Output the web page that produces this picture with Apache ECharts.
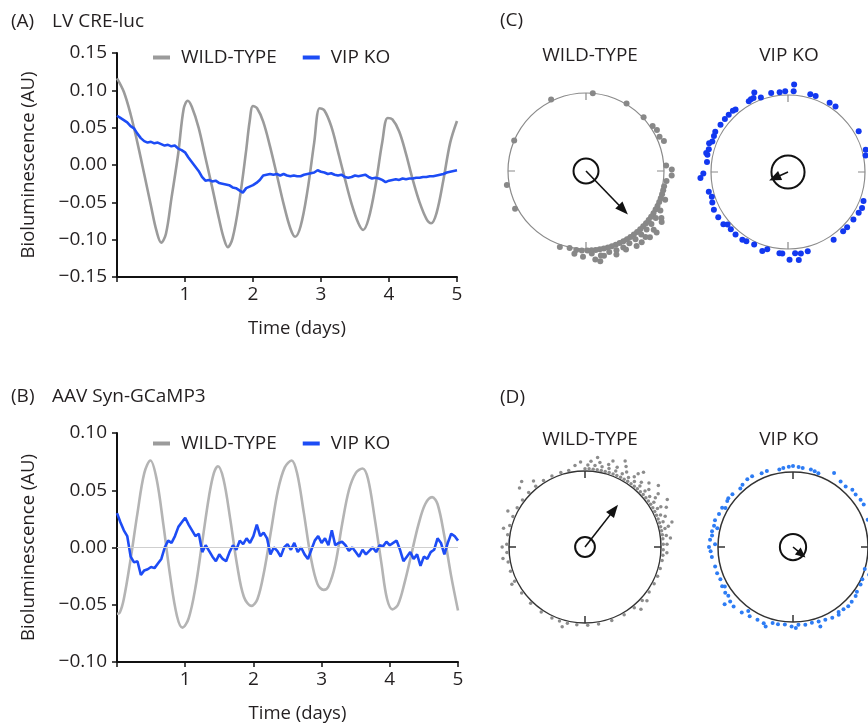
<!DOCTYPE html>
<html><head><meta charset="utf-8">
<script src="https://cdn.jsdelivr.net/npm/echarts@6/dist/echarts.min.js"></script>
<style>html,body{margin:0;padding:0;background:#fff}#c{width:868px;height:728px}</style>
</head><body><div id="c"></div>
<script>
// ---------------- DATA ----------------
const seriesNames = ['WILD-TYPE', 'VIP KO'];
const xTickValues = [0, 1, 2, 3, 4, 5];

// Panel A wild-type (time in days, value AU)
const wtA_t = [0,0.1,0.2,0.3,0.4,0.5,0.58,0.65,0.72,0.8,0.9,0.98,1.04,1.1,1.2,1.3,1.4,1.5,1.57,1.63,1.7,1.8,1.9,1.95,2.0,2.06,2.15,2.25,2.35,2.45,2.55,2.62,2.7,2.8,2.9,2.98,3.05,3.15,3.25,3.35,3.45,3.55,3.62,3.7,3.8,3.9,3.98,4.05,4.15,4.25,4.35,4.45,4.55,4.62,4.7,4.8,4.9,5.0];
const wtA_v = [0.116,0.098,0.068,0.030,-0.012,-0.055,-0.088,-0.104,-0.092,-0.045,0.015,0.075,0.086,0.078,0.050,0.010,-0.030,-0.072,-0.098,-0.110,-0.098,-0.048,0.020,0.058,0.079,0.076,0.058,0.025,-0.013,-0.052,-0.085,-0.096,-0.082,-0.035,0.030,0.076,0.073,0.052,0.018,-0.018,-0.052,-0.078,-0.087,-0.072,-0.028,0.030,0.063,0.061,0.045,0.015,-0.020,-0.050,-0.072,-0.078,-0.064,-0.020,0.030,0.059];

// Panel A VIP KO, sampled every 0.05 day
const koA_step = 0.05;
const koA_v = [0.066,0.063,0.060,0.057,0.052,0.049,0.042,0.036,0.032,0.030,0.031,0.029,0.030,0.028,0.026,0.027,0.025,0.026,0.022,0.020,0.017,0.010,0.004,-0.002,-0.008,-0.016,-0.021,-0.020,-0.022,-0.021,-0.024,-0.025,-0.026,-0.027,-0.030,-0.031,-0.034,-0.037,-0.031,-0.029,-0.027,-0.024,-0.020,-0.014,-0.013,-0.012,-0.013,-0.012,-0.014,-0.012,-0.014,-0.015,-0.014,-0.015,-0.015,-0.013,-0.012,-0.011,-0.010,-0.007,-0.009,-0.010,-0.012,-0.011,-0.013,-0.014,-0.013,-0.016,-0.017,-0.016,-0.014,-0.015,-0.014,-0.013,-0.016,-0.018,-0.017,-0.018,-0.020,-0.023,-0.021,-0.020,-0.019,-0.020,-0.018,-0.019,-0.018,-0.018,-0.017,-0.017,-0.016,-0.016,-0.015,-0.015,-0.014,-0.013,-0.012,-0.010,-0.009,-0.008,-0.007];

// Panel B wild-type
const wtB_t = [0,0.04,0.1,0.2,0.3,0.4,0.49,0.58,0.68,0.78,0.88,0.96,1.05,1.15,1.25,1.35,1.42,1.48,1.56,1.66,1.76,1.86,1.97,2.06,2.16,2.26,2.36,2.46,2.56,2.64,2.74,2.84,2.94,3.03,3.1,3.2,3.3,3.4,3.5,3.6,3.68,3.78,3.88,3.96,4.04,4.12,4.22,4.32,4.42,4.52,4.62,4.7,4.8,4.9,5.0];
const wtB_v = [-0.058,-0.057,-0.045,-0.010,0.030,0.065,0.076,0.060,0.020,-0.025,-0.060,-0.070,-0.062,-0.035,0.005,0.045,0.065,0.071,0.060,0.025,-0.015,-0.043,-0.051,-0.045,-0.020,0.015,0.050,0.070,0.076,0.065,0.030,-0.008,-0.032,-0.037,-0.034,-0.015,0.020,0.050,0.065,0.069,0.060,0.025,-0.015,-0.045,-0.054,-0.050,-0.030,-0.005,0.020,0.038,0.044,0.038,0.010,-0.025,-0.055];

// Panel B VIP KO, sampled every 0.05 day
const koB_step = 0.05;
const koB_v = [0.030,0.022,0.015,0.010,-0.008,-0.013,-0.012,-0.024,-0.020,-0.019,-0.017,-0.018,-0.014,-0.010,0.000,0.006,0.004,0.010,0.018,0.022,0.026,0.020,0.015,0.010,0.012,-0.004,0.002,-0.003,-0.008,-0.012,-0.006,-0.010,-0.012,-0.004,0.002,-0.002,0.006,0.003,0.008,0.004,0.010,0.020,0.010,0.013,0.008,-0.006,0.000,-0.003,-0.008,0.000,0.003,-0.002,0.004,-0.004,0.000,-0.006,-0.010,-0.002,0.006,0.010,0.004,0.008,0.002,0.015,0.002,0.004,0.005,0.002,-0.003,0.000,-0.004,-0.008,-0.002,-0.006,-0.003,0.000,-0.004,0.002,0.001,0.005,0.002,0.004,0.006,-0.002,-0.012,-0.008,-0.004,-0.010,-0.006,-0.016,-0.008,-0.010,-0.004,-0.002,0.008,0.004,-0.006,0.004,0.012,0.010,0.006];

// Rayleigh plots: dots as [radius (1 = circle), phase angle in degrees]
const cWT_dots = [[1.00,5],[1.02,334],[1.01,31],[1.01,47],[1.03,56],[1.05,60],[1.04,65],[1.07,69],[1.00,293],[1.03,260],[1.03,242],
 [1.03,86],[1.10,89],[1.10,93],[1.04,97],
 [1.02,101],[1.02,104],[1.02,107],[1.02,110],[1.02,113],[1.02,116],[1.02,119],[1.02,122],[1.02,125],[1.02,128],[1.02,131],[1.02,134],[1.02,137],[1.02,140],[1.02,143],[1.02,146],[1.02,149],[1.02,152],[1.02,155],[1.02,158],[1.02,161],[1.02,164],[1.02,167],[1.02,170],[1.02,173],[1.02,176],[1.02,179],[1.02,183],[1.02,187],[1.01,192],[1.03,199],
 [1.08,110],[1.08,118],[1.08,124],[1.08,129],[1.08,134],[1.08,139],[1.08,144],[1.08,149],[1.09,154],[1.09,159],[1.08,164],[1.10,170],[1.06,176],[1.10,182],[1.07,188],
 [1.14,122],[1.15,131],[1.14,138],[1.16,146],[1.13,153],[1.14,160],[1.11,168],[1.14,174],
 [1.17,124],[1.20,131],[1.18,136],[1.16,142],[1.17,171]];
const cKO_dots = [[1.14,4],[1.05,4],[1.05,358],[1.04,354],[1.05,348],[1.12,337],[1.06,333],[1.05,331],[1.05,16],[1.05,20],[1.05,31],[1.05,36],[1.06,60],[1.05,74],[1.03,78],
 [1.05,111],[1.07,116],[1.06,120],[1.05,126],[1.05,133],[1.05,137],[1.06,146],[1.06,166],[1.07,171],[1.06,175],[1.14,179],[1.15,173],[1.06,184],[1.06,186],
 [1.04,195],[1.08,198],[1.04,205],[1.05,211],[1.06,214],[1.06,220],[1.05,225],[1.08,231],[1.08,237],[1.08,243],[1.06,248],[1.06,256],[1.14,266],[1.10,269],
 [1.06,277],[1.07,282],[1.07,286],[1.06,292],[1.07,296],[1.08,299],[1.07,305],[1.07,310],[1.07,314],[1.07,318],[1.06,320],[1.06,335],[1.03,340],[1.09,283],[1.09,290],[1.04,229],[1.04,252]];
const dWT_dots = [
 [1.03,0],[1.03,3],[1.03,6],[1.03,9],[1.03,12],[1.03,15],[1.03,18],[1.03,21],[1.03,24],[1.03,27],[1.03,30],[1.03,33],[1.03,36],[1.03,39],[1.03,42],[1.03,45],[1.03,48],[1.03,51],[1.03,54],[1.03,57],[1.03,60],[1.03,63],[1.03,66],[1.03,69],[1.03,72],[1.03,75],[1.03,78],[1.03,81],[1.03,84],[1.03,88],[1.03,92],[1.03,96],
 [1.08,2],[1.08,7],[1.08,12],[1.08,17],[1.08,22],[1.08,27],[1.08,32],[1.08,37],[1.08,42],[1.08,47],[1.08,52],[1.08,57],[1.08,62],[1.08,67],[1.08,72],[1.08,77],[1.08,82],[1.08,88],[1.08,94],
 [1.13,4],[1.13,10],[1.13,16],[1.13,22],[1.13,29],[1.13,35],[1.13,41],[1.13,48],[1.13,55],[1.13,62],[1.13,69],[1.13,76],[1.13,84],
 [1.19,8],[1.19,18],[1.19,27],[1.19,36],[1.19,45],[1.19,54],[1.19,64],[1.19,74],
 [1.25,25],[1.25,38],[1.26,50],[1.25,60],[1.12,357],[1.08,353],
 [1.03,100],[1.03,106],[1.03,112],[1.03,118],[1.03,125],[1.03,133],[1.03,141],[1.03,150],[1.03,160],[1.03,170],[1.03,178],[1.03,186],[1.03,193],[1.03,199],[1.03,205],[1.03,214],[1.03,224],[1.03,234],[1.03,244],[1.03,252],[1.03,259],[1.03,266],[1.03,272],[1.03,279],[1.03,286],[1.03,293],[1.03,300],[1.03,307],[1.03,314],[1.03,321],[1.03,328],[1.03,335],[1.03,342],[1.03,348],
 [1.09,262],[1.09,270],[1.10,283],[1.12,295],[1.16,312],[1.20,316],[1.10,322],[1.08,243],[1.09,196],[1.08,131],[1.10,138]];
const dKO_dots = [[1.05,350],[1.06,353],[1.07,357],[1.08,0],[1.07,4],[1.06,7],[1.06,13],[1.05,16],[1.04,19],[1.13,29],[1.08,36],[1.07,41],[1.10,46],[1.09,50],[1.10,55],[1.10,59],
 [1.07,341],[1.07,337],[1.09,330],[1.09,326],[1.07,321],[1.05,318],[1.07,311],[1.08,307],[1.07,305],[1.08,299],[1.08,294],[1.10,289],[1.09,285],[1.10,281],[1.09,278],[1.11,275],[1.12,270],[1.10,267],[1.09,263],[1.07,256],[1.07,251],[1.06,246],[1.08,241],[1.09,236],[1.08,233],[1.11,229],[1.19,230],[1.12,225],[1.11,218],[1.09,212],[1.08,206],[1.09,201],[1.12,199],
 [1.05,195],[1.05,191],[1.04,186],[1.06,181],[1.08,178],[1.04,176],[1.05,171],[1.04,166],[1.05,161],[1.12,161],[1.06,156],[1.08,151],[1.09,146],[1.07,141],[1.08,137],[1.07,133],[1.06,128],[1.04,125],[1.03,119],[1.02,115],[1.00,107],
 [1.06,70],[1.05,80],[1.07,95],[1.04,100],[1.08,110],[1.04,272],[1.04,284],[1.04,300],[1.05,240],[1.04,215],[1.06,145]];

// mean vectors: [length (fraction of circle radius), phase angle]; Rayleigh threshold radius
const cWT_vec = [0.69, 136], cKO_vec = [0.19, 246], dWT_vec = [0.62, 38], dKO_vec = [0.15, 130];
const cWT_thr = 0.16, cKO_thr = 0.215, dWT_thr = 0.13, dKO_thr = 0.175;

// ---------------- CHART ----------------
const FONT = "'Open Sans', 'Noto Sans', sans-serif";
const FS = 19;
const TXT = '#231f20';
const GREY_A = '#9b9b9b', GREY_B = '#b4b4b4', BLUE = '#1d4cf5';

const chart = echarts.init(document.getElementById('c'), null, {renderer: 'canvas'});

function xAxis(gi) {
  return {type: 'value', gridIndex: gi, min: 0, max: 5, interval: 1,
    name: 'Time (days)', nameLocation: 'middle', nameGap: 42,
    nameTextStyle: {fontSize: 18.5, color: TXT, fontFamily: FONT, padding: [0, 0, 0, 20]},
    axisLine: {show: true, onZero: false, lineStyle: {color: '#111', width: 2}},
    axisTick: {show: true, length: 5, lineStyle: {color: '#111', width: 1.5}},
    axisLabel: {fontSize: FS, color: TXT, fontFamily: FONT, margin: 8,
      formatter: v => (v === 0 ? '' : String(v))},
    splitLine: {show: false}};
}
function fmtY(v) {
  if (Math.abs(v) < 1e-9) return '0.00';
  return (v < 0 ? '\u2212' : '') + Math.abs(v).toFixed(2);
}
function yAxis(gi, min, max, interval) {
  return {type: 'value', gridIndex: gi, min, max, interval,
    name: 'Bioluminescence (AU)', nameLocation: 'middle', nameGap: 79,
    nameTextStyle: {fontSize: 18.5, color: TXT, fontFamily: FONT},
    axisLine: {show: true, onZero: false, lineStyle: {color: '#111', width: 2}},
    axisTick: {show: true, length: 5, lineStyle: {color: '#111', width: 1.5}},
    axisLabel: {fontSize: FS, color: TXT, fontFamily: FONT, margin: 10, formatter: fmtY},
    splitLine: {show: false}};
}
const pairs = (t, v) => t.map((x, i) => [x, v[i]]);
const stepPairs = (step, v) => v.map((y, i) => [+(i * step).toFixed(4), y]);

// polar layout (centre px, radius px)
const plots = [
  {c: [586, 171], R: 78, dots: cWT_dots, vec: cWT_vec, thr: cWT_thr, color: '#888888', size: 6, ring: '#8a8a8a', ringW: 1.2, head: [10, 13]},
  {c: [788, 172], R: 77, dots: cKO_dots, vec: cKO_vec, thr: cKO_thr, color: '#1238f0', size: 6, ring: '#8a8a8a', ringW: 1.2, head: [10, 12]},
  {c: [585, 547], R: 76, dots: dWT_dots, vec: dWT_vec, thr: dWT_thr, color: '#8c8c8c', size: 3.5, ring: '#333', ringW: 1.5, head: [10, 13]},
  {c: [793, 547], R: 75, dots: dKO_dots, vec: dKO_vec, thr: dKO_thr, color: '#2d7cf4', size: 4, ring: '#333', ringW: 1.5, head: [9, 10]}
];
const polar = [], angleAxis = [], radiusAxis = [], polarSeries = [];
plots.forEach((p, k) => {
  const outer = 2 * k, inner = 2 * k + 1;
  polar.push({center: p.c, radius: p.R});
  polar.push({center: p.c, radius: p.R * p.thr});
  angleAxis.push({polarIndex: outer, type: 'value', min: 0, max: 360, interval: 90, startAngle: 90, clockwise: true,
    axisLine: {show: true, lineStyle: {color: p.ring, width: p.ringW}},
    axisTick: {show: true, inside: true, length: 7, lineStyle: {color: p.ring, width: p.ringW}},
    axisLabel: {show: false}, splitLine: {show: false}, splitArea: {show: false}});
  radiusAxis.push({polarIndex: outer, type: 'value', min: 0, max: 1, show: false});
  angleAxis.push({polarIndex: inner, type: 'value', min: 0, max: 360, startAngle: 90,
    axisLine: {show: true, lineStyle: {color: '#111', width: 2}},
    axisTick: {show: false}, axisLabel: {show: false}, splitLine: {show: false}, splitArea: {show: false}});
  radiusAxis.push({polarIndex: inner, type: 'value', min: 0, max: 1, show: false});
  polarSeries.push({type: 'scatter', coordinateSystem: 'polar', polarIndex: outer, data: p.dots,
    symbolSize: p.size, itemStyle: {color: p.color, opacity: 1}, clip: false, silent: true, z: 3});
  const L = p.vec[0], th = p.vec[1];
  polarSeries.push({type: 'line', coordinateSystem: 'polar', polarIndex: outer, silent: true, z: 6,
    data: [{value: [0, th], symbol: 'none'},
           {value: [L, th], symbol: 'triangle', symbolSize: p.head, symbolRotate: -th}],
    lineStyle: {color: '#111', width: 1.6}, itemStyle: {color: '#111'}, showSymbol: true});
});

const legendCommon = {data: seriesNames, icon: 'rect', itemWidth: 17, itemHeight: 4, itemGap: 26,
  selectedMode: false, textStyle: {fontSize: FS, color: TXT, fontFamily: FONT, padding: [0, 0, 0, 6]}};

const texts = [
  ['(A)', 11, 22, 'left'], ['LV CRE-luc', 52, 22, 'left'],
  ['(B)', 11, 397, 'left'], ['AAV Syn-GCaMP3', 52, 397, 'left'],
  ['(C)', 500, 21, 'left'], ['(D)', 500, 398, 'left'],
  ['WILD-TYPE', 590, 56, 'center'], ['VIP KO', 789, 56, 'center'],
  ['WILD-TYPE', 590, 440, 'center'], ['VIP KO', 789, 440, 'center']
];

chart.setOption({
  animation: false,
  backgroundColor: '#fff',
  textStyle: {fontFamily: FONT},
  grid: [
    {left: 117, top: 53, width: 340, height: 224},
    {left: 117, top: 433, width: 341, height: 229}
  ],
  xAxis: [xAxis(0), xAxis(1)],
  yAxis: [yAxis(0, -0.15, 0.15, 0.05), yAxis(1, -0.10, 0.10, 0.05)],
  legend: [
    Object.assign({left: 148, top: 43}, legendCommon),
    Object.assign({left: 148, top: 429}, legendCommon)
  ],
  polar, angleAxis, radiusAxis,
  graphic: texts.map(([t, x, y, a]) => ({type: 'text', x, y, silent: true,
    style: {text: t, font: FS + 'px ' + FONT, fill: TXT, textAlign: a, textVerticalAlign: 'middle'}})),
  series: [
    {name: seriesNames[0], type: 'line', xAxisIndex: 0, yAxisIndex: 0, data: pairs(wtA_t, wtA_v),
      smooth: 0.35, showSymbol: false, lineStyle: {color: GREY_A, width: 2.6}, itemStyle: {color: GREY_A}, z: 2},
    {name: seriesNames[1], type: 'line', xAxisIndex: 0, yAxisIndex: 0, data: stepPairs(koA_step, koA_v),
      showSymbol: false, lineStyle: {color: BLUE, width: 2.6}, itemStyle: {color: BLUE}, z: 3},
    {name: seriesNames[0], type: 'line', xAxisIndex: 1, yAxisIndex: 1, data: pairs(wtB_t, wtB_v),
      smooth: 0.35, showSymbol: false, lineStyle: {color: GREY_B, width: 2.6}, itemStyle: {color: GREY_B}, z: 2,
      markLine: {silent: true, symbol: 'none', label: {show: false}, animation: false,
        lineStyle: {color: '#cfcfcf', width: 1, type: 'solid'}, data: [{yAxis: 0}]}},
    {name: seriesNames[1], type: 'line', xAxisIndex: 1, yAxisIndex: 1, data: stepPairs(koB_step, koB_v),
      showSymbol: false, lineStyle: {color: BLUE, width: 2.6}, itemStyle: {color: BLUE}, z: 3}
  ].concat(polarSeries)
});
</script></body></html>
